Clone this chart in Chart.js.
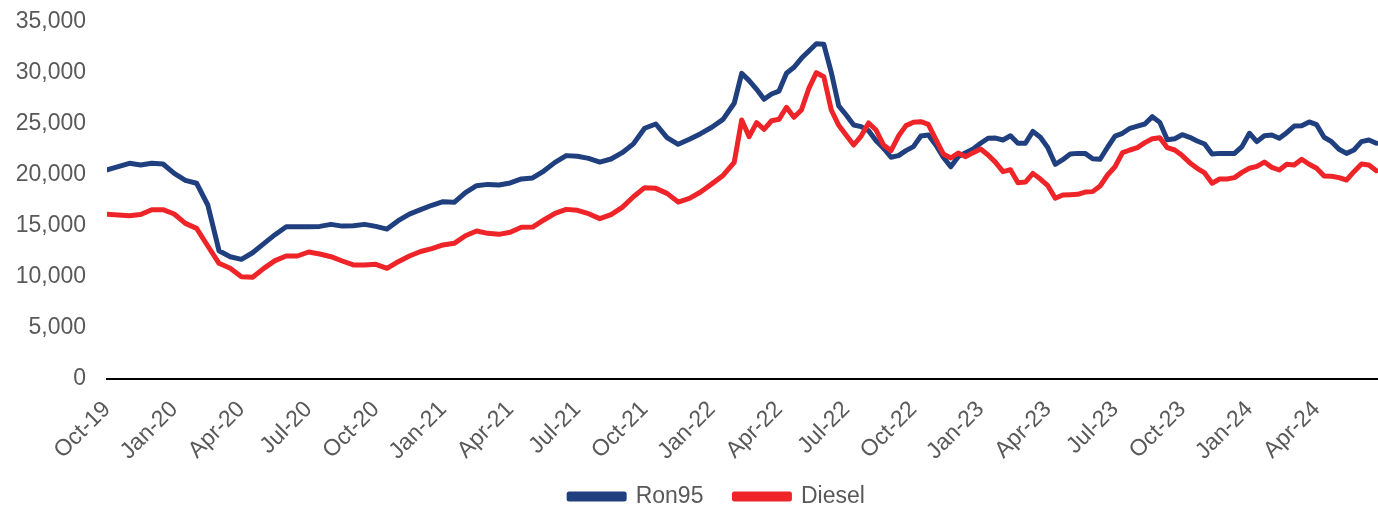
<!DOCTYPE html>
<html><head><meta charset="utf-8">
<script src="https://cdn.jsdelivr.net/npm/chart.js@4.4.1/dist/chart.umd.min.js"></script>
<style>html,body{margin:0;padding:0;background:#fff}#wrap{width:1378px;height:507px;position:relative}</style>
</head><body><div id="wrap"><canvas id="c"></canvas></div>
<script>
const dates = [
"2019-10-01","2019-10-16","2019-11-01","2019-11-16","2019-12-01","2019-12-16",
"2020-01-01","2020-01-16","2020-02-01","2020-02-16","2020-03-01","2020-03-16","2020-04-01","2020-04-16","2020-05-01","2020-05-16","2020-06-01","2020-06-16",
"2020-07-01","2020-07-16","2020-08-01","2020-08-16","2020-09-01","2020-09-16","2020-10-01","2020-10-16","2020-11-01","2020-11-16","2020-12-01","2020-12-16",
"2021-01-01","2021-01-16","2021-02-01","2021-02-16","2021-03-01","2021-03-16","2021-04-01","2021-04-16","2021-05-01","2021-05-16","2021-06-01","2021-06-16",
"2021-07-01","2021-07-16","2021-08-01","2021-08-16","2021-09-01","2021-09-16","2021-10-01","2021-10-16","2021-11-01","2021-11-16","2021-12-01","2021-12-16",
"2022-01-01","2022-01-16",
"2022-02-01","2022-02-11","2022-02-21","2022-03-01","2022-03-11","2022-03-21","2022-04-01","2022-04-11","2022-04-21","2022-05-01","2022-05-11","2022-05-21",
"2022-06-01","2022-06-11","2022-06-21","2022-07-01","2022-07-11","2022-07-21","2022-08-01","2022-08-11","2022-08-21","2022-09-01","2022-09-11","2022-09-21",
"2022-10-01","2022-10-11","2022-10-21","2022-11-01","2022-11-11","2022-11-21","2022-12-01","2022-12-11","2022-12-21",
"2023-01-01","2023-01-11","2023-01-21","2023-02-01","2023-02-11","2023-02-21","2023-03-01","2023-03-11","2023-03-21","2023-04-01","2023-04-11","2023-04-21",
"2023-05-01","2023-05-11","2023-05-21","2023-06-01","2023-06-11","2023-06-21","2023-07-01","2023-07-11","2023-07-21","2023-08-01","2023-08-11","2023-08-21",
"2023-09-01","2023-09-11","2023-09-21","2023-10-01","2023-10-11","2023-10-21","2023-11-01","2023-11-11","2023-11-21","2023-12-01","2023-12-11","2023-12-21",
"2024-01-01","2024-01-11","2024-01-21","2024-02-01","2024-02-11","2024-02-21","2024-03-01","2024-03-11","2024-03-21","2024-04-01","2024-04-11","2024-04-21",
"2024-05-01","2024-05-11","2024-05-21","2024-06-01","2024-06-11","2024-06-21"
];

const ron95 = [
20500,20820,21150,20980,21150,21080,20160,19480,19190,17060,
12580,11990,11730,12380,13270,14150,14930,14930,14930,14960,
15160,14990,15020,15160,14960,14700,15520,16170,16600,17030,
17380,17320,18270,18950,19080,19020,19220,19610,19710,20390,
21240,21900,21830,21630,21270,21570,22190,23050,24580,25000,
23660,23010,23500,24050,24680,25450,
27030,29970,29250,28400,27420,27940,28230,29970,30560,31440,
32160,32870,32810,30070,26770,25880,24900,24740,24340,23360,
22620,21740,21900,22390,22780,23820,23920,22940,21740,20810,
21800,22190,22550,23110,23600,23620,23430,23850,23110,23110,
24280,23700,22680,21050,21500,22060,22120,22120,21600,21540,
22720,23820,24090,24580,24800,25000,25720,25160,23460,23560,
23950,23700,23330,23040,22060,22120,22120,22120,22780,24090,
23270,23850,23920,23600,24150,24800,24830,25200,24930,23700,
23270,22520,22120,22450,23270,23430,23110
];

const diesel = [
16150,16080,16010,16120,16600,16600,16180,15260,14770,13040,
11340,10850,10030,9970,10850,11600,12060,12060,12450,12250,
11990,11570,11180,11180,11240,10850,11500,12060,12500,12780,
13140,13300,14050,14510,14280,14180,14380,14870,14900,15590,
16240,16630,16540,16210,15720,16110,16830,17870,18760,18690,
18200,17350,17710,18330,19130,19960,
21240,25390,23760,25130,24480,25320,25460,26640,25660,26370,
28500,30030,29640,26370,24870,23890,22940,23820,25100,24410,
22940,22380,23820,24840,25170,25230,24970,23500,22060,21670,
22160,21800,22190,22550,21960,21240,20330,20520,19250,19310,
20160,19600,18950,17720,18040,18070,18110,18330,18370,18920,
20000,20810,22190,22450,22680,23170,23560,23660,22680,22450,
21900,21210,20660,20200,19190,19610,19610,19740,20260,20660,
20850,21270,20750,20490,21050,20980,21540,21050,20660,19900,
19870,19740,19510,20330,21080,20980,20420
];

const tickLabels = ["Oct-19","Jan-20","Apr-20","Jul-20","Oct-20","Jan-21","Apr-21","Jul-21","Oct-21","Jan-22","Apr-22","Jul-22","Oct-22","Jan-23","Apr-23","Jul-23","Oct-23","Jan-24","Apr-24"];
const seriesNames = ["Ron95","Diesel"];

function monthOffset(s){ const p = s.split('-').map(Number); return (p[0]-2019)*12 + (p[1]-10) + (p[2]-1)/30; }
const xs = dates.map(monthOffset);
const toPts = arr => arr.map((v,i)=>({x:xs[i], y:v}));

const font = {family:'"Liberation Sans", Arial, sans-serif', size:23};
const grey = '#595959';

const legendShift = {
  id:'legendShift',
  afterLayout(chart){
    const lg = chart.legend;
    if (lg){ lg.left += 28; lg.right += 28; lg.top -= 10; lg.bottom -= 10; }
  }
};

new Chart(document.getElementById('c'), {
  type:'line',
  data:{datasets:[
    {label:seriesNames[0], data:toPts(ron95), borderColor:'#203F7E', backgroundColor:'#203F7E', borderWidth:5, pointRadius:0, tension:0, order:1, borderJoinStyle:'round', borderCapStyle:'round'},
    {label:seriesNames[1], data:toPts(diesel), borderColor:'#EE2428', backgroundColor:'#EE2428', borderWidth:5, pointRadius:0, tension:0, order:0, borderJoinStyle:'round', borderCapStyle:'round'}
  ]},
  plugins:[legendShift],
  options:{
    responsive:true, maintainAspectRatio:false, animation:false,
    layout:{padding:{left:0, right:0, top:22, bottom:-21}},
    plugins:{
      legend:{position:'bottom', labels:{boxWidth:55, boxHeight:5, padding:31, color:grey, font:font, sort:(a,b)=>a.datasetIndex-b.datasetIndex}},
      tooltip:{enabled:false}
    },
    scales:{
      x:{type:'linear', min:0, max:56.74, grid:{display:false, drawTicks:false}, border:{display:true, color:'#000', width:2},
         ticks:{stepSize:3, autoSkip:false, minRotation:45, maxRotation:45, padding:17, color:grey, font:font,
           callback:(v)=>{ const i=Math.round(v/3); return (Math.abs(v-i*3)<1e-6 && i<tickLabels.length) ? tickLabels[i] : ''; }},
         afterFit(s){ s.height = 85; s.paddingRight = 0; s.paddingLeft = 0; }},
      y:{min:0, max:35000, grid:{display:false, drawTicks:false}, border:{display:false},
         ticks:{stepSize:5000, padding:21, color:grey, font:font, callback:(v)=>v.toLocaleString('en-US')},
         afterFit(s){ s.width = 107; s.paddingTop = 0; s.paddingBottom = 0; }}
    }
  }
});
</script></body></html>
